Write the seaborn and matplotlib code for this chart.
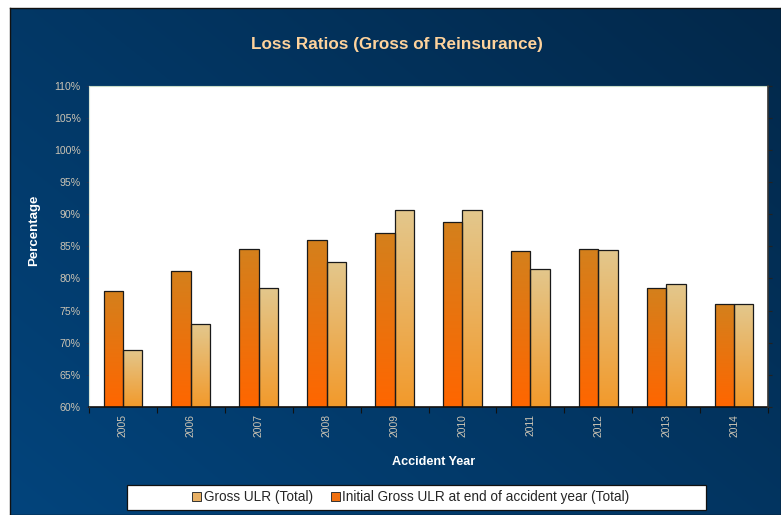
import numpy as np
import pandas as pd
import matplotlib
matplotlib.use("Agg")
import matplotlib.pyplot as plt
import seaborn as sns
from matplotlib.colors import LinearSegmentedColormap
from matplotlib.patches import Rectangle

# Accident years and loss ratios (%)
years = ["2005", "2006", "2007", "2008", "2009", "2010", "2011", "2012", "2013", "2014"]
gross_ulr = [68.9, 72.9, 78.5, 82.6, 90.7, 90.6, 81.5, 84.4, 79.1, 76.0]
initial_ulr = [78.1, 81.2, 84.5, 85.9, 87.1, 88.7, 84.3, 84.5, 78.5, 76.0]
y_ticks = [60, 65, 70, 75, 80, 85, 90, 95, 100, 105, 110]

lbl_gross = "Gross ULR (Total)"
lbl_initial = "Initial Gross ULR at end of accident year (Total)"

df = pd.DataFrame({
    "year": years * 2,
    "series": [lbl_initial] * len(years) + [lbl_gross] * len(years),
    "value": initial_ulr + gross_ulr,
})

# (top colour, bottom colour) of each bar gradient
grad_colors = {
    lbl_initial: ("#D4801C", "#FF6600"),
    lbl_gross: ("#E3C78C", "#F29A2C"),
}

sns.set_theme(style="white")
plt.rcParams["font.family"] = ["Liberation Sans", "DejaVu Sans"]

W, H = 781, 515
fig = plt.figure(figsize=(W / 100, H / 100), dpi=100, facecolor="white")

# dark blue panel behind the chart
bg = fig.add_axes([10 / W, 0, 1 - 10 / W, 1 - 8 / H], zorder=-10)
gx = np.linspace(0, 1, 200)
gy = np.linspace(0, 1, 140)
GX, GY = np.meshgrid(gx, gy)
t = np.clip(0.55 * GX + 0.45 * (1 - GY), 0, 1)
c0 = np.array([0x03, 0x44, 0x7C]) / 255
c1 = np.array([0x02, 0x28, 0x4A]) / 255
img = c0[None, None, :] * (1 - t[..., None]) + c1[None, None, :] * t[..., None]
bg.imshow(img, aspect="auto", extent=[0, 1, 0, 1], origin="upper", interpolation="bilinear")
bg.set_xlim(0, 1)
bg.set_ylim(0, 1)
bg.set_xticks([])
bg.set_yticks([])
for s in bg.spines.values():
    s.set_color("#111111")
    s.set_linewidth(1.0)

ax = fig.add_axes([89 / W, 1 - 407 / H, (768 - 89) / W, (407 - 85.5) / H])
ax.set_facecolor("white")

sns.barplot(data=df, x="year", y="value", hue="series",
            hue_order=[lbl_initial, lbl_gross], order=years,
            palette=[grad_colors[lbl_initial][1], grad_colors[lbl_gross][1]],
            width=0.57, edgecolor="#1a1a1a", linewidth=0.9,
            legend=False, ax=ax)

ymin, ymax = y_ticks[0], y_ticks[-1]
for cont, name in zip(ax.containers, [lbl_initial, lbl_gross]):
    top, bot = grad_colors[name]
    cmap = LinearSegmentedColormap.from_list(name, [bot, top])
    for patch in cont.patches:
        x0, y0 = patch.get_x(), patch.get_y()
        w, h = patch.get_width(), patch.get_height()
        grad = np.linspace(0, 1, 64).reshape(-1, 1)
        im = ax.imshow(grad, cmap=cmap, origin="lower", aspect="auto",
                       extent=[x0, x0 + w, ymin, y0 + h],
                       zorder=patch.get_zorder() - 0.01,
                       interpolation="bilinear")
        im.set_clip_path(patch)
        patch.set_facecolor("none")

ax.set_xlim(-0.5, len(years) - 0.5)
ax.set_ylim(ymin, ymax)
ax.set_yticks(y_ticks)
ax.set_yticklabels([f"{v}%" for v in y_ticks])

tick_col = "#CCC4B4"
ax.tick_params(axis="y", colors=tick_col, labelsize=7.6, length=2, width=0.6,
               direction="out", pad=4, left=True)
ax.tick_params(axis="y", which="major", color="#223355")
ax.tick_params(axis="x", which="major", length=0, labelsize=7.4,
               labelcolor=tick_col, pad=5)
for lab in ax.get_xticklabels():
    lab.set_rotation(90)
ax.set_xticks(np.arange(-0.5, len(years), 1.0), minor=True)
ax.tick_params(axis="x", which="minor", length=4, width=0.8, color="#111111",
               direction="out", bottom=True)

# right-hand axis with its tick marks
rax = ax.twinx()
rax.set_ylim(ymin, ymax)
rax.set_yticks(y_ticks)
rax.set_yticklabels([])
rax.tick_params(axis="y", length=3, width=0.8, color="#222222", direction="out")
for s in ["top", "left", "bottom"]:
    rax.spines[s].set_visible(False)
rax.spines["right"].set_color("#333333")
rax.spines["right"].set_linewidth(1.2)

ax.spines["bottom"].set_color("#111111")
ax.spines["bottom"].set_linewidth(1.2)
ax.spines["left"].set_color("#D8E6D8")
ax.spines["left"].set_linewidth(0.8)
ax.spines["top"].set_color("#C8DCC8")
ax.spines["top"].set_linewidth(0.8)
ax.spines["right"].set_visible(False)

ax.set_xlabel("Accident Year", color="white", fontsize=9.1, fontweight="bold")
ax.set_ylabel("Percentage", color="white", fontsize=9.5, fontweight="bold")
# axis-label positions in pixel terms, converted to axes fractions
ax_w, ax_h = 768 - 89, 407 - 85.5
ax.xaxis.set_label_coords((434 - 89) / ax_w, (407 - 456) / ax_h)
ax.yaxis.set_label_coords((40 - 89) / ax_w, (407 - 230) / ax_h)

fig.text(397 / W, 1 - 45 / H, "Loss Ratios (Gross of Reinsurance)",
         color="#FFD39C", fontsize=12.3, fontweight="bold", ha="center", va="center")

# legend box
fig.patches.append(Rectangle((127 / W, 1 - 510 / H), 579 / W, 25 / H,
                             transform=fig.transFigure, facecolor="white",
                             edgecolor="#111111", linewidth=0.9, zorder=5))
handles = [
    Rectangle((0, 0), 1, 1, facecolor="#E8B064", edgecolor="#333333", linewidth=0.7),
    Rectangle((0, 0), 1, 1, facecolor="#F07010", edgecolor="#333333", linewidth=0.7),
]
leg = fig.legend(handles, [lbl_gross, lbl_initial], loc="center",
                 bbox_to_anchor=(411 / W, 1 - 497.5 / H), ncol=2, frameon=False,
                 fontsize=9.8, handlelength=0.65, handleheight=0.65,
                 handletextpad=0.2, columnspacing=1.3)
leg.set_zorder(6)

fig.savefig("out.png", dpi=100, facecolor="white")
